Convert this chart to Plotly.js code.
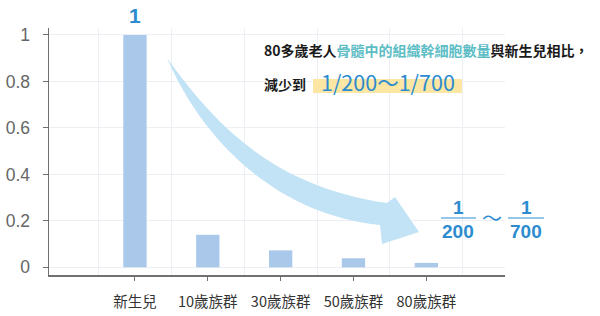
<!DOCTYPE html>
<html>
<head>
<meta charset="utf-8">
<script src="https://cdn.plot.ly/plotly-3.0.1.min.js"></script>
<style>html,body{margin:0;padding:0;background:#fff;}#chart{width:600px;height:316px;}</style>
</head>
<body>
<div id="chart"></div>
<script>
// ---- data ----
const categories = ['新生兒', '10歲族群', '30歲族群', '50歲族群', '80歲族群'];
const values = [1, 0.14, 0.073, 0.039, 0.019];
const yTickValues = [0, 0.2, 0.4, 0.6, 0.8, 1];
const yTickLabels = ['0', '0.2', '0.4', '0.6', '0.8', '1'];
const topLabel = '1';
const headlinePre = '80多歲老人';
const headlineKey = '骨髓中的組織幹細胞數量';
const headlinePost = '與新生兒相比，';
const reducePrefix = '減少到';
const reduceRange = '1/200～1/700';
const fracNum = ['1', '1'];
const fracDen = ['200', '700'];
const fracSep = '～';

// ---- layout helpers (pixel -> paper) ----
const W = 600, H = 316, ML = 49, MR = 95, MT = 28, MB = 41;
const PW = W - ML - MR, PH = H - MT - MB;
const px = x => (x - ML) / PW;
const py = y => (H - MB - y) / PH;
const P = (x, y) => px(x).toFixed(4) + ',' + py(y).toFixed(4);

const idx = categories.map((c, i) => i);
const blue = '#2c8ccf';
const cjk = '"Noto Sans CJK TC", "Noto Sans", sans-serif';
const latin = 'Liberation Sans, Arial, sans-serif';

const trace = {
  type: 'bar',
  x: idx,
  y: values,
  width: 0.32,
  marker: { color: '#a9c8ea', line: { width: 0 } },
  hoverinfo: 'skip'
};

const arrowPath = 'M ' + P(167, 58) +
  ' C ' + P(219, 131) + ' ' + P(278, 187) + ' ' + P(387, 203) +
  ' L ' + P(395, 197) + ' L ' + P(419, 232) + ' L ' + P(382, 244) + ' L ' + P(380, 225) +
  ' C ' + P(276, 214) + ' ' + P(203, 141) + ' ' + P(167, 58) + ' Z';

const shapes = [
  { type: 'path', xref: 'paper', yref: 'paper', path: arrowPath,
    fillcolor: '#c2e3f5', line: { width: 0 }, layer: 'above' },
  { type: 'rect', xref: 'paper', yref: 'paper', x0: px(313), x1: px(462), y0: py(93), y1: py(79),
    fillcolor: '#fbe6a4', line: { width: 0 }, layer: 'above' },
  { type: 'line', xref: 'paper', yref: 'paper', x0: px(441), x1: px(476), y0: py(218), y1: py(218),
    line: { color: blue, width: 1.2 }, layer: 'above' },
  { type: 'line', xref: 'paper', yref: 'paper', x0: px(508), x1: px(544), y0: py(218), y1: py(218),
    line: { color: blue, width: 1.2 }, layer: 'above' }
];

const annotations = [
  { x: idx[0], y: values[0], xref: 'x', yref: 'y', text: '<b>' + topLabel + '</b>', showarrow: false,
    yanchor: 'middle', yshift: 19, font: { family: latin, size: 21, color: blue } },
  { x: px(262), y: py(50), xref: 'paper', yref: 'paper', xanchor: 'left', yanchor: 'middle', showarrow: false,
    text: '<b>' + headlinePre + '<span style="color:#5cbdc5">' + headlineKey + '</span>' + headlinePost + '</b>',
    font: { family: cjk, size: 14, color: '#1a1a1a' } },
  { x: px(262), y: py(84), xref: 'paper', yref: 'paper', xanchor: 'left', yanchor: 'middle', showarrow: false,
    text: '<b>' + reducePrefix + '</b>', font: { family: cjk, size: 14, color: '#1a1a1a' } },
  { x: px(388), y: py(81), xref: 'paper', yref: 'paper', xanchor: 'center', yanchor: 'middle', showarrow: false,
    text: reduceRange, font: { family: cjk, size: 21.5, color: blue } },
  { x: px(458), y: py(207), xref: 'paper', yref: 'paper', xanchor: 'center', yanchor: 'middle', showarrow: false,
    text: '<b>' + fracNum[0] + '</b>', font: { family: latin, size: 19, color: blue } },
  { x: px(458), y: py(231), xref: 'paper', yref: 'paper', xanchor: 'center', yanchor: 'middle', showarrow: false,
    text: '<b>' + fracDen[0] + '</b>', font: { family: latin, size: 19, color: blue } },
  { x: px(492), y: py(218), xref: 'paper', yref: 'paper', xanchor: 'center', yanchor: 'middle', showarrow: false,
    text: fracSep, font: { family: cjk, size: 20, color: blue } },
  { x: px(526), y: py(207), xref: 'paper', yref: 'paper', xanchor: 'center', yanchor: 'middle', showarrow: false,
    text: '<b>' + fracNum[1] + '</b>', font: { family: latin, size: 19, color: blue } },
  { x: px(526), y: py(231), xref: 'paper', yref: 'paper', xanchor: 'center', yanchor: 'middle', showarrow: false,
    text: '<b>' + fracDen[1] + '</b>', font: { family: latin, size: 19, color: blue } }
];

const layout = {
  width: W, height: H,
  margin: { l: ML, r: MR, t: MT, b: MB, pad: 0 },
  paper_bgcolor: '#ffffff', plot_bgcolor: '#ffffff',
  showlegend: false,
  bargap: 0.68,
  xaxis: {
    type: 'linear', range: [-1.18, 5.08], fixedrange: true,
    tickvals: idx, ticktext: categories,
    showline: true, linecolor: '#707070', linewidth: 1.5,
    ticks: 'outside', ticklen: 4, tickcolor: '#707070', tickwidth: 1,
    ticklabelstandoff: 9,
    showgrid: false, zeroline: false,
    minor: { tick0: 0.5, dtick: 1, showgrid: true, gridcolor: '#eceff3', gridwidth: 1, ticks: '' },
    tickfont: { family: cjk, size: 14.5, color: '#333333' }
  },
  yaxis: {
    range: [-0.033, 1.03], fixedrange: true,
    tickvals: yTickValues, ticktext: yTickLabels,
    showline: true, linecolor: '#707070', linewidth: 1.5,
    ticks: 'outside', ticklen: 5, tickcolor: '#707070', tickwidth: 1,
    ticklabelstandoff: 9,
    showgrid: true, gridcolor: '#eceff3', gridwidth: 1, zeroline: false,
    tickfont: { family: latin, size: 17.5, color: '#666666' }
  },
  shapes: shapes,
  annotations: annotations
};

Plotly.newPlot('chart', [trace], layout, { displayModeBar: false, staticPlot: true });
</script>
</body>
</html>
